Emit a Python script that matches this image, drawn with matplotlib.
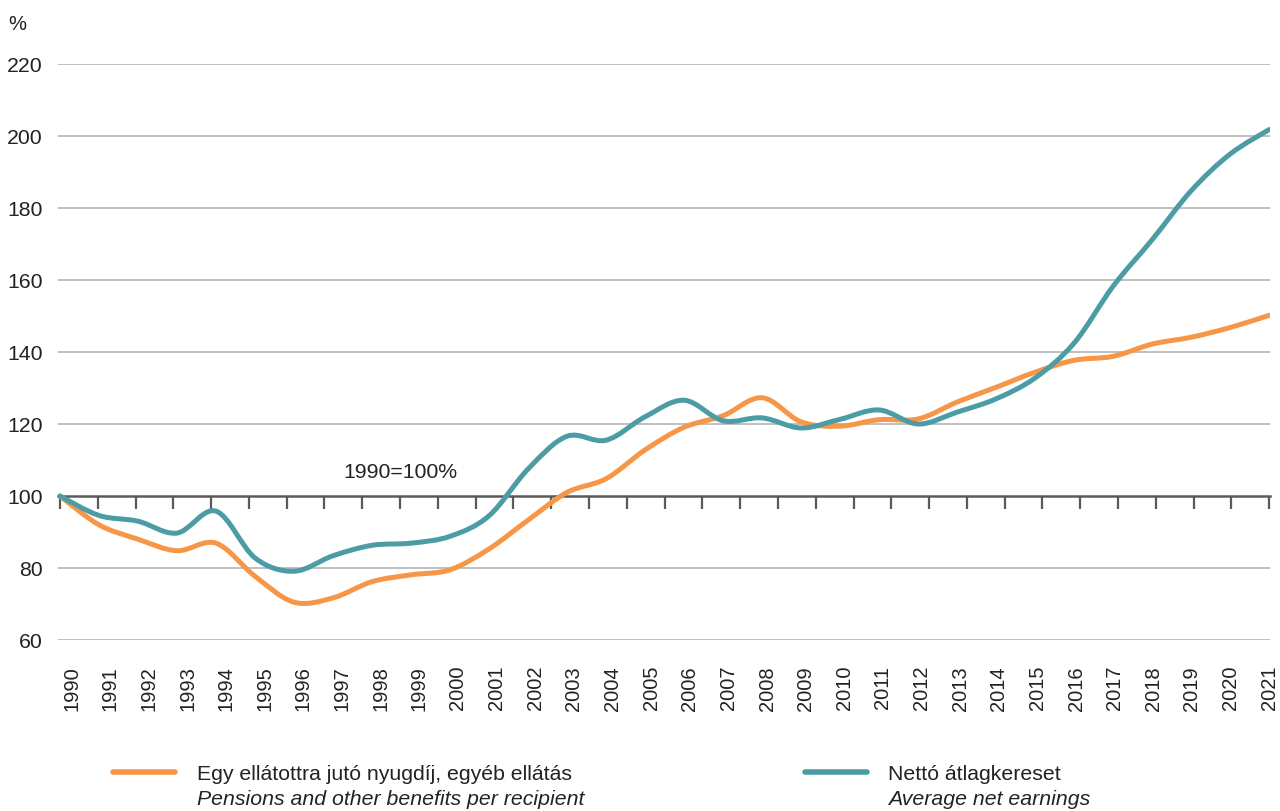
import numpy as np
import matplotlib
matplotlib.use("Agg")
import matplotlib.pyplot as plt
from matplotlib.path import Path
from matplotlib.patches import PathPatch
from matplotlib.lines import Line2D
import matplotlib.transforms as mtransforms

plt.rcParams['font.family'] = ['Liberation Sans', 'DejaVu Sans']

years = list(range(1990, 2022))
pensions = [100, 92, 88, 84.8, 86.9, 77.7, 70.5, 71.7, 76.2, 78.1, 79.5, 85.3,
            93.3, 101, 104.8, 112.8, 119.1, 122.3, 127.3, 120.6, 119.4, 121.2,
            121.4, 126.1, 130.2, 134.4, 137.7, 138.8, 142.2, 144.1, 146.8, 150.2]
earnings = [100, 94.6, 93, 89.7, 95.8, 82.8, 79.1, 83.4, 86.3, 86.9, 88.8, 94.5,
            107.5, 116.6, 115.5, 122, 126.6, 120.9, 121.7, 118.9, 121.3, 123.9,
            120, 123.3, 127, 132.8, 142.5, 158.3, 171.2, 184.8, 195, 201.8]
yticks = [60, 80, 100, 120, 140, 160, 180, 200, 220]

label_hu = ['Egy ellátottra jutó nyugdíj, egyéb ellátás', 'Nettó átlagkereset']
label_en = ['Pensions and other benefits per recipient', 'Average net earnings']

ORANGE = '#F79646'
TEAL = '#4B9CA5'
TXT = '#222222'
W, H = 1280, 812
FS = 15.3


def smooth_path(x, y, t=1 / 6):
    # Catmull-Rom style cubic bezier through the points
    verts = [(x[0], y[0])]
    codes = [Path.MOVETO]
    n = len(x)
    for i in range(n - 1):
        p0 = i - 1 if i > 0 else i
        p3 = i + 2 if i + 2 < n else i + 1
        c1 = (x[i] + (x[i + 1] - x[p0]) * t, y[i] + (y[i + 1] - y[p0]) * t)
        c2 = (x[i + 1] - (x[p3] - x[i]) * t, y[i + 1] - (y[p3] - y[i]) * t)
        verts += [c1, c2, (x[i + 1], y[i + 1])]
        codes += [Path.CURVE4] * 3
    return Path(verts, codes)


fig = plt.figure(figsize=(W / 100, H / 100), dpi=100)
ax = fig.add_axes([58 / W, 1 - 641 / H, (1270 - 58) / W, (641 - 65) / H])

x = np.arange(len(years))
for vals, col in [(pensions, ORANGE), (earnings, TEAL)]:
    patch = PathPatch(smooth_path(x, vals), fill=False, edgecolor=col, lw=3.6,
                      capstyle='round', joinstyle='round', zorder=3)
    ax.add_patch(patch)

ax.set_xlim(-0.05, 31.02)
ax.set_ylim(60, 220)

# gridlines
for v in yticks:
    if v != 100:
        ax.axhline(v, color='#b5b5b5', lw=1.2, zorder=1)

for s in ['left', 'right', 'top']:
    ax.spines[s].set_visible(False)
ax.spines['bottom'].set_position(('data', 100))
ax.spines['bottom'].set_color('#5a5a5a')
ax.spines['bottom'].set_linewidth(1.8)
ax.spines['bottom'].set_zorder(2)

ax.set_xticks(np.linspace(0, len(years) - 1, len(years) + 1))
ax.tick_params(axis='x', direction='out', length=9.5, width=1.6, color='#5a5a5a',
               labelbottom=False)
ax.set_yticks(yticks)
ax.set_yticklabels([str(v) for v in yticks])
ax.tick_params(axis='y', length=0, pad=10.8, labelsize=FS, labelcolor=TXT)

# year labels below the plot
trans = mtransforms.blended_transform_factory(ax.transData, ax.transAxes)
lab_x = np.linspace(0.3, len(years) - 1, len(years))
for lx, yr in zip(lab_x, years):
    ax.text(lx, -25 / 576, str(yr), rotation=90, ha='center', va='top',
            fontsize=14.5, color=TXT, transform=trans, clip_on=False)

ax.text(400 / W, 1 - 473 / H, '1990=100%', transform=fig.transFigure,
        ha='center', va='center', fontsize=FS, color=TXT)
fig.text(8 / W, 1 - 24.5 / H, '%', ha='left', va='center', fontsize=14.5, color=TXT)

# legend
for (x0, x1, tx), col, hu, en in zip([(113, 175, 197), (805, 867, 888)],
                                     [ORANGE, TEAL], label_hu, label_en):
    fig.add_artist(Line2D([x0 / W, x1 / W], [1 - 773 / H, 1 - 773 / H],
                          color=col, lw=4, solid_capstyle='round',
                          transform=fig.transFigure))
    fig.text(tx / W, 1 - 775 / H, hu, ha='left', va='center', fontsize=FS, color=TXT)
    fig.text(tx / W, 1 - 800 / H, en, ha='left', va='center', fontsize=FS,
             color=TXT, style='italic')

fig.savefig('out.png', dpi=100)
